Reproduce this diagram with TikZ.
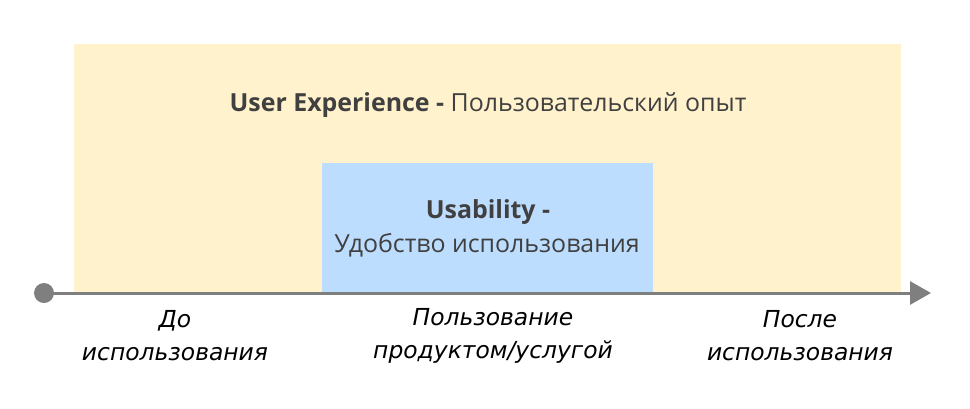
\documentclass[tikz,border=0pt]{standalone}
\usepackage{fontspec}
\setmainfont{Open Sans}
\newfontfamily\labfont{DejaVu Sans}
\usetikzlibrary{arrows.meta}
\definecolor{uxyellow}{HTML}{FFF2CC}
\definecolor{ublue}{HTML}{BDDDFE}
\definecolor{axisgray}{HTML}{7F7F7F}
\definecolor{txtgray}{HTML}{404040}
\tikzset{
  titletext/.style={text=txtgray, font=\fontsize{25}{30}\selectfont, inner sep=0pt, anchor=center},
  labtext/.style={text=black, font=\labfont\itshape\fontsize{23.5}{33}\selectfont, align=center, inner sep=0pt, anchor=center},
  axisline/.style={draw=axisgray, line width=3bp, -{Triangle[length=21bp, width=23bp]}},
}
\begin{document}
\begin{tikzpicture}[x=1bp,y=-1bp]
\useasboundingbox (0,0) rectangle (970,408);
\fill[uxyellow] (74,44) rectangle (901,293);
\fill[ublue] (322,163) rectangle (653,293);
\node[titletext] (ux) at (488,105) {\textbf{User Experience -} Пользовательский опыт};
\node[titletext] (us1) at (488,212) {\textbf{Usability -}};
\node[titletext] (us2) at (487,245) {Удобство использования};
\node[circle, fill=axisgray, minimum size=20bp, inner sep=0pt] (start) at (44,293) {};
\coordinate (end) at (931,293);
\draw[axisline] (start.center) -- (end);
\node[labtext] (before) at (175,336) {До\\использования};
\node[labtext] (during) at (493,336) {Пользование\\продуктом/услугой};
\node[labtext] (after) at (800,336) {После\\использования};
\end{tikzpicture}
\end{document}
